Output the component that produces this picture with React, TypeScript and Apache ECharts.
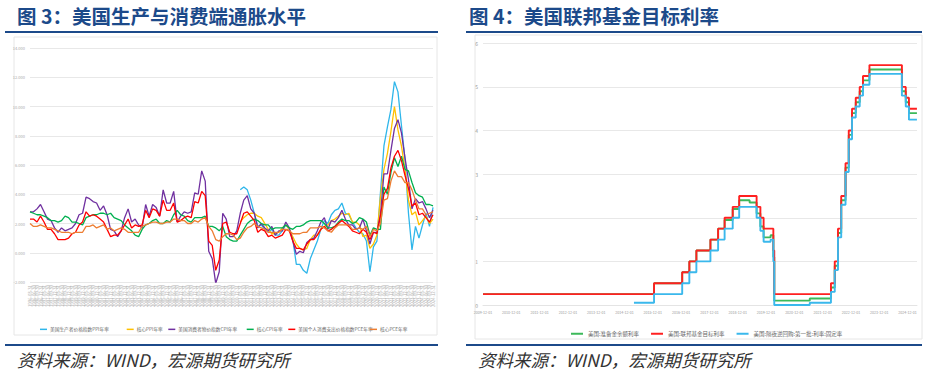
import React, { useEffect, useRef } from "react";
import * as echarts from "echarts";

// ---------- Left chart: US inflation (quarterly samples, Mar/Jun/Sep/Dec, 1996-2024) ----------
const startYear = 1996;
const endYear = 2024;
const monthEnds = ["03-31", "06-30", "09-30", "12-31"];

const cpi = [
  2.8, 2.8, 3.0, 3.3, 2.8, 2.3, 2.2, 1.7, 1.4, 1.7, 1.5, 1.6, 1.7, 2.0, 2.6, 2.7,
  3.8, 3.7, 3.5, 3.4, 2.9, 3.2, 2.6, 1.6, 1.5, 1.1, 1.5, 2.4, 3.0, 2.1, 2.3, 1.9,
  1.7, 3.3, 2.5, 3.3, 3.1, 2.5, 4.3, 3.4, 3.4, 4.2, 2.1, 2.5, 2.8, 2.7, 2.8, 4.1,
  4.0, 5.6, 4.9, 0.1, -0.4, -2.1, -1.3, 2.7, 2.3, 1.1, 1.1, 1.5, 2.7, 3.6, 3.9, 3.0,
  2.7, 1.7, 2.0, 1.7, 1.5, 1.8, 1.2, 1.5, 1.5, 2.1, 1.7, 0.8, -0.1, 0.1, 0.0, 0.7,
  0.9, 1.0, 1.5, 2.1, 2.4, 1.6, 2.2, 2.1, 2.4, 2.9, 2.3, 1.9, 1.9, 1.6, 1.7, 2.3,
  1.5, 0.6, 1.4, 1.4, 2.6, 5.4, 5.4, 7.0, 8.5, 9.1, 8.2, 6.5, 5.0, 3.0, 3.7, 3.4,
  3.5, 3.0, 2.4, 2.9,
];
const coreCpi = [
  2.8, 2.7, 2.6, 2.6, 2.5, 2.4, 2.2, 2.2, 2.1, 2.2, 2.5, 2.4, 2.1, 2.1, 2.0, 1.9,
  2.4, 2.5, 2.6, 2.6, 2.7, 2.7, 2.6, 2.7, 2.4, 2.3, 2.2, 1.9, 1.7, 1.5, 1.2, 1.1,
  1.6, 1.9, 2.0, 2.2, 2.3, 2.0, 2.0, 2.2, 2.1, 2.6, 2.9, 2.6, 2.5, 2.2, 2.1, 2.4,
  2.4, 2.4, 2.5, 1.8, 1.8, 1.7, 1.5, 1.8, 1.1, 0.9, 0.8, 0.8, 1.2, 1.6, 2.0, 2.2,
  2.3, 2.2, 2.0, 1.9, 1.9, 1.6, 1.7, 1.7, 1.7, 1.9, 1.7, 1.6, 1.8, 1.8, 1.9, 2.1,
  2.2, 2.2, 2.2, 2.2, 2.0, 1.7, 1.7, 1.8, 2.1, 2.3, 2.2, 2.2, 2.0, 2.1, 2.4, 2.3,
  2.1, 1.2, 1.7, 1.6, 1.6, 4.5, 4.0, 5.5, 6.5, 5.9, 6.6, 5.7, 5.6, 4.8, 4.1, 3.9,
  3.8, 3.3, 3.3, 3.2,
];
const pce = [
  2.3, 2.3, 2.1, 2.5, 2.1, 1.6, 1.6, 1.3, 0.9, 0.9, 0.9, 1.0, 1.3, 1.4, 1.9, 2.1,
  2.8, 2.5, 2.6, 2.5, 2.3, 2.1, 1.6, 1.1, 1.2, 1.2, 1.5, 1.9, 2.3, 1.7, 1.9, 1.8,
  1.9, 2.9, 2.4, 3.0, 2.9, 2.5, 3.6, 2.9, 2.9, 3.4, 2.1, 2.2, 2.4, 2.5, 2.4, 3.5,
  3.4, 4.2, 3.9, 0.8, 0.5, -1.2, -0.5, 2.0, 2.1, 1.4, 1.3, 1.3, 2.0, 2.7, 2.8, 2.5,
  2.2, 1.4, 1.6, 1.5, 1.1, 1.2, 1.0, 1.1, 1.2, 1.6, 1.5, 0.8, 0.3, 0.3, 0.2, 0.6,
  0.9, 0.9, 1.2, 1.6, 1.8, 1.5, 1.6, 1.8, 2.0, 2.2, 2.0, 1.8, 1.5, 1.4, 1.3, 1.6,
  1.4, 0.9, 1.4, 1.3, 2.5, 4.0, 4.4, 5.8, 6.6, 7.0, 6.3, 5.3, 4.4, 3.2, 3.4, 2.6,
  2.7, 2.4, 2.1, 2.6,
];
const corePce = [
  2.0, 1.8, 1.8, 1.9, 1.8, 1.7, 1.7, 1.6, 1.5, 1.4, 1.4, 1.4, 1.3, 1.4, 1.4, 1.4,
  1.8, 1.8, 1.9, 1.7, 1.8, 1.9, 1.6, 1.7, 1.5, 1.6, 1.7, 1.6, 1.4, 1.4, 1.4, 1.4,
  1.8, 1.9, 2.0, 2.1, 2.1, 2.0, 2.0, 2.1, 2.1, 2.3, 2.3, 2.2, 2.2, 2.0, 2.0, 2.2,
  2.1, 2.3, 2.4, 1.8, 1.5, 0.9, 0.8, 1.1, 1.3, 1.3, 1.2, 0.9, 1.0, 1.4, 1.7, 1.8,
  2.0, 1.8, 1.7, 1.6, 1.4, 1.4, 1.4, 1.4, 1.6, 1.6, 1.5, 1.3, 1.3, 1.3, 1.4, 1.4,
  1.7, 1.7, 1.7, 1.8, 1.7, 1.5, 1.4, 1.7, 1.9, 1.9, 1.9, 1.9, 1.6, 1.6, 1.7, 1.6,
  1.8, 1.1, 1.6, 1.5, 2.0, 3.6, 3.7, 4.9, 5.6, 5.2, 5.2, 4.8, 4.8, 4.3, 3.6, 3.0,
  3.0, 2.6, 2.7, 2.8,
];
// PPI series start in 2011-03
const ppiStart = "2011-03-31";
const ppi = [
  4.3, 4.5, 4.3, 3.6, 2.7, 1.8, 1.9, 1.6, 1.4, 1.6, 1.2, 1.2, 1.5, 1.9, 1.6, 0.9,
  -0.8, -0.8, -1.2, -1.4, -0.4, 0.2, 0.8, 1.6, 2.2, 2.0, 2.6, 2.9, 3.0, 3.4, 2.7, 2.6,
  2.1, 1.7, 1.4, 1.3, 0.8, -1.3, 0.4, 0.8, 4.1, 7.3, 8.6, 9.8, 11.7, 11.0, 8.7, 6.4,
  2.7, 0.2, 1.8, 1.0, 1.9, 2.7, 1.8, 3.1,
];
const corePpi = [
  2.1, 2.4, 2.6, 2.7, 2.7, 2.5, 2.4, 2.0, 1.6, 1.3, 1.3, 1.4, 1.7, 1.9, 1.6, 1.1,
  0.6, 0.3, 0.2, 0.3, 0.9, 1.2, 1.2, 1.6, 1.8, 1.9, 2.2, 2.3, 2.5, 2.7, 2.6, 2.7,
  2.1, 2.1, 1.9, 1.1, 1.2, 0.3, 0.6, 1.2, 3.8, 5.7, 6.8, 8.3, 10.0, 8.4, 7.3, 5.7,
  3.6, 2.6, 2.8, 1.9, 2.2, 2.5, 2.0, 2.3,
];
const leftNames = [
  "美国生产者价格指数PPI年率",
  "核心PPI年率",
  "美国消费者物价指数CPI年率",
  "核心CPI年率",
  "美国个人消费支出价格指数PCE年率",
  "核心PCE年率",
];
const leftColors = ["#2fb6ea", "#ffc000", "#7030a0", "#00b050", "#ff0000", "#ed7d31"];
const leftLegendX = [35, 121.7, 163.3, 241.7, 283.3, 365];
const leftYTicks = { min: -2, max: 14, step: 2 };

// ---------- Right chart: Fed policy rates ----------
const iorbDates = [
  "2009-12-01", "2015-12-17", "2016-12-15", "2017-03-16", "2017-06-15", "2017-12-14",
  "2018-03-22", "2018-06-14", "2018-09-27", "2018-12-20", "2019-05-02", "2019-08-01",
  "2019-09-19", "2019-10-31", "2020-01-30", "2020-03-04", "2020-03-16", "2021-06-17",
  "2022-03-17", "2022-05-05", "2022-06-16", "2022-07-28", "2022-09-22", "2022-11-03",
  "2022-12-15", "2023-02-02", "2023-03-23", "2023-05-04", "2023-07-27", "2024-09-19",
  "2024-11-08", "2024-12-19", "2025-03-31",
];
const iorbValues = [
  0.25, 0.5, 0.75, 1.0, 1.25, 1.5, 1.75, 1.95, 2.2, 2.4, 2.35, 2.1, 1.8, 1.55, 1.6, 1.1,
  0.1, 0.15, 0.4, 0.9, 1.65, 2.4, 3.15, 3.9, 4.4, 4.65, 4.9, 5.15, 5.4, 4.9, 4.65, 4.4,
  4.4,
];
const fedDates = [
  "2009-12-01", "2015-12-17", "2016-12-15", "2017-03-16", "2017-06-15", "2017-12-14",
  "2018-03-22", "2018-06-14", "2018-09-27", "2018-12-20", "2019-08-01", "2019-09-19",
  "2019-10-31", "2020-03-04", "2020-03-16", "2022-03-17", "2022-05-05", "2022-06-16",
  "2022-07-28", "2022-09-22", "2022-11-03", "2022-12-15", "2023-02-02", "2023-03-23",
  "2023-05-04", "2023-07-27", "2024-09-19", "2024-11-08", "2024-12-19", "2025-03-31",
];
const fedValues = [
  0.25, 0.5, 0.75, 1.0, 1.25, 1.5, 1.75, 2.0, 2.25, 2.5, 2.25, 2.0, 1.75, 1.25, 0.25,
  0.5, 1.0, 1.75, 2.5, 3.25, 4.0, 4.5, 4.75, 5.0, 5.25, 5.5, 5.0, 4.75, 4.5, 4.5,
];
const rrpDates = [
  "2015-04-01", "2015-12-17", "2016-12-15", "2017-03-16", "2017-06-15", "2017-12-14",
  "2018-03-22", "2018-06-14", "2018-09-27", "2018-12-20", "2019-08-01", "2019-09-19",
  "2019-10-31", "2020-01-30", "2020-03-04", "2020-03-16", "2021-06-17", "2022-03-17",
  "2022-05-05", "2022-06-16", "2022-07-28", "2022-09-22", "2022-11-03", "2022-12-15",
  "2023-02-02", "2023-03-23", "2023-05-04", "2023-07-27", "2024-09-19", "2024-11-08",
  "2024-12-19", "2025-03-31",
];
const rrpValues = [
  0.05, 0.25, 0.5, 0.75, 1.0, 1.25, 1.5, 1.75, 2.0, 2.25, 2.0, 1.7, 1.45, 1.5, 1.0, 0.0,
  0.05, 0.3, 0.8, 1.55, 2.3, 3.05, 3.8, 4.3, 4.55, 4.8, 5.05, 5.3, 4.8, 4.55, 4.25, 4.25,
];
const rightNames = ["美国:准备金余额利率", "美国:联邦基金目标利率", "美国:隔夜逆回购:第一批:利率:固定率"];
const rightColors = ["#3cb95a", "#ff2020", "#3ab8ec"];
const rightBaseDate = "2009-12-01";
const rightMaxMonths = 184;

const titleColor = "#1c4a8a";

function buildQuarterCats(): string[] {
  const cats: string[] = [];
  for (let y = startYear; y <= endYear; y++) {
    for (const md of monthEnds) cats.push(`${y}-${md}`);
  }
  return cats;
}

function monthsFrom(base: string, d: string): number {
  const [by, bm] = base.split("-").map(Number);
  const [y, m, day] = d.split("-").map(Number);
  const dim = new Date(y, m, 0).getDate();
  return (y - by) * 12 + (m - bm) + (day - 1) / dim;
}

export default function App() {
  const ref = useRef<HTMLDivElement>(null);
  useEffect(() => {
    if (!ref.current) return;
    const chart = echarts.init(ref.current, undefined, { renderer: "svg" });
    const cats = buildQuarterCats();
    const off = cats.indexOf(ppiStart);
    const withOffset = (arr: number[]) => arr.map((v, i) => [cats[off + i], v]);
    const leftData = [withOffset(ppi), withOffset(corePpi), cpi, coreCpi, pce, corePce];
    const step = (dates: string[], vals: number[]) =>
      dates.map((d, i) => [monthsFrom(rightBaseDate, d), vals[i]]);
    const rightData = [step(iorbDates, iorbValues), step(fedDates, fedValues), step(rrpDates, rrpValues)];
    const font = "'Noto Sans CJK SC', 'Noto Sans', sans-serif";

    const leftLegends = leftNames.map((n, i) => ({
      data: [n],
      left: leftLegendX[i],
      top: 322,
      icon: "rect",
      itemWidth: 7,
      itemHeight: 1.5,
      itemGap: 2,
      textStyle: { fontSize: 4.7, color: "#666", padding: [0, 0, 0, -2] },
    }));

    const option: any = {
      animation: false,
      textStyle: { fontFamily: font },
      grid: [
        { left: 30, top: 48, width: 403, height: 234, containLabel: false },
        { left: 483, top: 43.3, width: 434, height: 261.7, containLabel: false },
      ],
      xAxis: [
        {
          gridIndex: 0,
          type: "category",
          data: cats,
          boundaryGap: false,
          axisLine: { show: false },
          axisTick: { show: false },
          axisLabel: { interval: 0, rotate: 90, fontSize: 4.3, color: "#b4b4b4", margin: 3 },
        },
        {
          gridIndex: 1,
          type: "value",
          min: 0,
          max: rightMaxMonths,
          interval: 12,
          splitLine: { show: false },
          axisLine: { show: true, lineStyle: { color: "#e4e4e4", width: 1 } },
          axisTick: { show: false },
          axisLabel: {
            fontSize: 3.6,
            color: "#999",
            margin: 6,
            formatter: (v: number) => (v % 12 === 0 && v <= 180 ? `${2009 + v / 12}-12-01` : ""),
          },
        },
      ],
      yAxis: [
        {
          gridIndex: 0,
          type: "value",
          min: leftYTicks.min,
          max: leftYTicks.max,
          interval: leftYTicks.step,
          axisLine: { show: false },
          axisTick: { show: false },
          splitLine: { lineStyle: { color: "#e8e8e8", width: 1 } },
          axisLabel: { fontSize: 4, color: "#aaa", margin: 5, formatter: (v: number) => v.toFixed(3) },
        },
        {
          gridIndex: 1,
          type: "value",
          min: 0,
          max: 6,
          interval: 1,
          axisLine: { show: false },
          axisTick: { show: false },
          splitLine: { lineStyle: { color: "#e8e8e8", width: 1 } },
          axisLabel: { fontSize: 5, color: "#999", margin: 5 },
        },
      ],
      legend: [
        ...leftLegends,
        {
          data: rightNames,
          left: 566,
          top: 326,
          icon: "rect",
          itemWidth: 12,
          itemHeight: 2,
          itemGap: 12,
          textStyle: { fontSize: 5.5, color: "#666" },
        },
      ],
      series: [
        ...leftNames.map((n, i) => ({
          name: n,
          type: "line",
          xAxisIndex: 0,
          yAxisIndex: 0,
          data: leftData[i],
          showSymbol: false,
          lineStyle: { width: 1.3, color: leftColors[i] },
          itemStyle: { color: leftColors[i] },
        })),
        ...rightNames.map((n, i) => ({
          name: n,
          type: "line",
          xAxisIndex: 1,
          yAxisIndex: 1,
          step: "end",
          data: rightData[i],
          showSymbol: false,
          lineStyle: { width: 1.9, color: rightColors[i] },
          itemStyle: { color: rightColors[i] },
        })),
      ],
      graphic: [
        { type: "rect", shape: { x: 14, y: 37, width: 423, height: 298 }, style: { fill: "none", stroke: "#e6e6e6", lineWidth: 1 }, silent: true },
        { type: "rect", shape: { x: 475, y: 35, width: 447, height: 304 }, style: { fill: "none", stroke: "#e6e6e6", lineWidth: 1 }, silent: true },
        { type: "text", left: 17, top: 6, style: { text: "图 3：美国生产与消费端通胀水平", fill: titleColor, font: `bold 19.5px ${font}` } },
        { type: "text", left: 469, top: 6, style: { text: "图 4：美国联邦基金目标利率", fill: titleColor, font: `bold 19.5px ${font}` } },
        { type: "line", shape: { x1: 5, y1: 32, x2: 438, y2: 32 }, style: { stroke: titleColor, lineWidth: 2 } },
        { type: "line", shape: { x1: 466, y1: 32, x2: 922, y2: 32 }, style: { stroke: titleColor, lineWidth: 2 } },
        { type: "line", shape: { x1: 5, y1: 345, x2: 438, y2: 345 }, style: { stroke: titleColor, lineWidth: 2 } },
        { type: "line", shape: { x1: 466, y1: 345, x2: 922, y2: 345 }, style: { stroke: titleColor, lineWidth: 2 } },
        { type: "text", left: 17, top: 351, style: { text: "资料来源：WIND，宏源期货研究所", fill: "#333", font: `italic 17.5px ${font}` } },
        { type: "text", left: 478, top: 351, style: { text: "资料来源：WIND，宏源期货研究所", fill: "#333", font: `italic 17.5px ${font}` } },
      ],
    };
    chart.setOption(option);
    return () => chart.dispose();
  }, []);
  return (
    <div
      ref={ref}
      style={{ position: "absolute", left: 0, top: 0, width: 929, height: 377, background: "#fff" }}
    />
  );
}
